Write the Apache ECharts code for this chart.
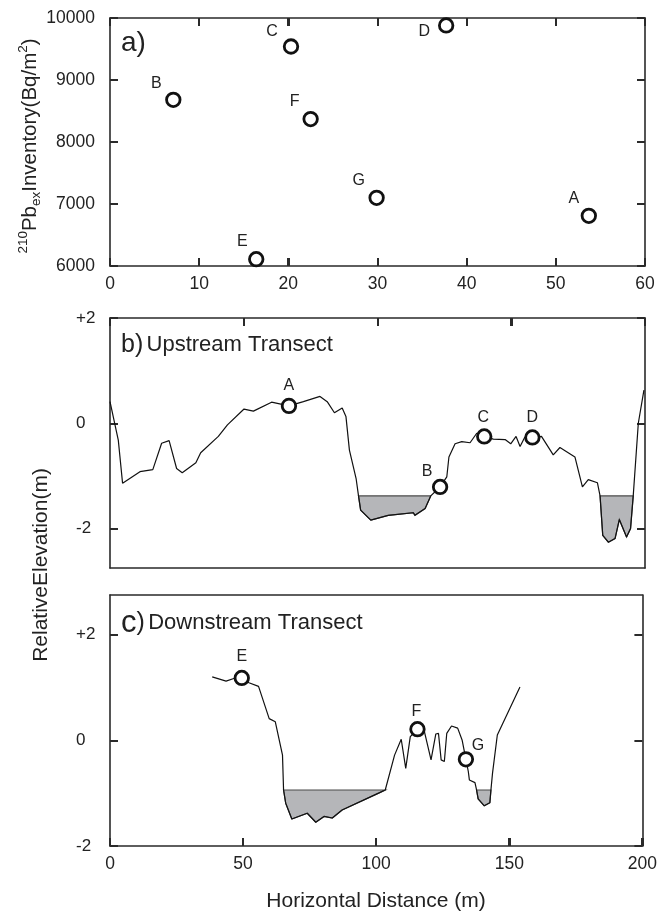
<!DOCTYPE html>
<html><head><meta charset="utf-8">
<script src="https://cdn.jsdelivr.net/npm/echarts@6/dist/echarts.min.js"></script>
<style>html,body{margin:0;padding:0;background:#fff}#c{width:660px;height:913px}</style>
</head><body><div id="c"></div>
<script>
// ---- Panel a: 210Pbex inventory vs distance ----
const sitesA = ['A', 'B', 'C', 'D', 'E', 'F', 'G'];
const distanceA = [53.7, 7.1, 20.3, 37.7, 16.4, 22.5, 29.9];
const inventoryA = [6810, 8680, 9540, 9880, 6110, 8370, 7100];
const xTicksA = [0, 10, 20, 30, 40, 50, 60];
const yTicksA = [6000, 7000, 8000, 9000, 10000];

// ---- Panel b: upstream transect ----
const upX = [0, 3.1, 4.7, 11.2, 16.0, 19.3, 22.1, 24.9, 27.0, 32.1, 33.9, 40.5, 43.9, 50.1, 53.6, 60.4, 66.9, 72.3, 78.5, 81.2, 83.9, 86.8, 88.2, 89.5, 92.0, 92.9, 93.7, 97.5, 104.0, 113.4, 114.0, 117.8, 119.9, 123.4, 125.9, 126.7, 129.0, 131.5, 134.6, 137.1, 139.9, 143.3, 147.7, 149.8, 151.8, 153.3, 155.0, 157.9, 161.3, 165.7, 168.2, 173.8, 176.6, 178.8, 182.2, 183.2, 184.2, 186.3, 188.8, 190.4, 193.1, 194.6, 195.6, 197.5, 199.6];
const upY = [0.41, -0.32, -1.14, -0.92, -0.88, -0.38, -0.33, -0.86, -0.94, -0.75, -0.56, -0.25, -0.03, 0.27, 0.23, 0.40, 0.33, 0.41, 0.51, 0.41, 0.20, 0.29, 0.13, -0.51, -1.05, -1.38, -1.65, -1.84, -1.75, -1.70, -1.75, -1.62, -1.38, -1.21, -1.02, -0.64, -0.39, -0.35, -0.37, -0.19, -0.25, -0.30, -0.31, -0.39, -0.25, -0.44, -0.27, -0.27, -0.25, -0.60, -0.46, -0.64, -1.21, -1.07, -1.13, -1.38, -2.13, -2.26, -2.19, -1.83, -2.16, -2.00, -1.38, 0.0, 0.63];
const upPoolStart = [92.9, 183.2];
const upPoolEnd = [119.9, 195.6];
const upPoolLevel = [-1.38, -1.38];
const upSites = ['A', 'B', 'C', 'D'];
const upSiteX = [66.9, 123.4, 139.9, 157.9];
const upSiteY = [0.33, -1.21, -0.25, -0.27];

// ---- Panel c: downstream transect ----
const downX = [38.4, 43.6, 46.5, 49.5, 52.2, 55.8, 59.8, 62.1, 64.8, 65.2, 66.0, 68.3, 74.1, 77.3, 80.4, 83.5, 87.2, 100.9, 103.4, 106.9, 109.4, 111.1, 112.8, 115.5, 118.0, 120.6, 122.4, 123.4, 124.4, 125.6, 126.5, 128.3, 130.6, 132.3, 133.7, 134.6, 135.0, 137.1, 137.7, 138.3, 140.6, 142.7, 143.1, 143.7, 145.5, 154.0];
const downY = [1.20, 1.12, 1.17, 1.18, 1.09, 1.02, 0.41, 0.35, -0.28, -0.94, -1.19, -1.49, -1.38, -1.55, -1.44, -1.47, -1.32, -1.0, -0.94, -0.28, 0.02, -0.53, 0.07, 0.21, 0.19, -0.37, 0.12, 0.13, -0.37, -0.40, 0.13, 0.27, 0.23, 0.0, -0.36, -0.59, -0.75, -0.80, -0.94, -1.11, -1.24, -1.18, -0.94, -0.62, 0.10, 1.01];
const downPoolStart = [65.2, 137.7];
const downPoolEnd = [103.4, 143.1];
const downPoolLevel = [-0.94, -0.94];
const downSites = ['E', 'F', 'G'];
const downSiteX = [49.5, 115.5, 133.7];
const downSiteY = [1.18, 0.21, -0.36];

const elevTicks = [-2, 0, 2];
const distTicks = [0, 50, 100, 150, 200];

// ---- styling ----
const FONT = 'Liberation Sans';
const INK = '#222';
const AX = '#2a2a2a';
const TICK_LEN = 8;
const TICK_W = 2;
const labelOffsets = {
  A_a: [-15, -17], B_a: [-17, -16], C_a: [-19, -15], D_a: [-22, 6], E_a: [-14, -18], F_a: [-16, -17], G_a: [-18, -17],
  A_b: [0, -20], B_b: [-13, -15], C_b: [-1, -19], D_b: [0, -20],
  E_c: [0, -21], F_c: [-1, -18], G_c: [12, -14]
};

function zip(xs, ys) { return xs.map((x, i) => [x, ys[i]]); }
function poolPolys(xs, ys, starts, ends, levels) {
  return starts.map((x0, k) => {
    const x1 = ends[k], lvl = levels[k];
    const pts = [[x0, lvl]];
    for (let i = 0; i < xs.length; i++) if (xs[i] > x0 && xs[i] < x1) pts.push([xs[i], ys[i]]);
    pts.push([x1, lvl]);
    return pts;
  });
}
const upPolys = poolPolys(upX, upY, upPoolStart, upPoolEnd, upPoolLevel);
const downPolys = poolPolys(downX, downY, downPoolStart, downPoolEnd, downPoolLevel);

function siteData(names, xs, ys, suffix) {
  return names.map((n, i) => ({
    name: n, value: [xs[i], ys[i]],
    label: { offset: labelOffsets[n + '_' + suffix] }
  }));
}

const tickStyle = { inside: true, length: TICK_LEN, lineStyle: { color: AX, width: TICK_W } };
const axLine = { show: true, onZero: false, lineStyle: { color: AX, width: 1.6 } };
function xAxisCfg(grid, ticks, pos, showLabels, showTicks) {
  return {
    gridIndex: grid, type: 'value', min: ticks[0], max: ticks[ticks.length - 1],
    interval: ticks[1] - ticks[0], position: pos,
    axisLine: axLine, splitLine: { show: false },
    axisTick: Object.assign({ show: showTicks }, tickStyle),
    axisLabel: { show: showLabels, fontSize: 17.5, color: INK, fontFamily: FONT, margin: 9, formatter: v => String(v) }
  };
}
function yAxisCfg(grid, min, max, ticks, pos, showLabels, labelCfg) {
  return {
    gridIndex: grid, type: 'value', min: min, max: max, position: pos,
    axisLine: axLine, splitLine: { show: false },
    axisTick: Object.assign({ show: true, customValues: ticks }, tickStyle),
    axisLabel: Object.assign({ show: showLabels, customValues: ticks, fontSize: 17.5, color: INK, fontFamily: FONT, formatter: v => String(v) }, labelCfg || {})
  };
}
const elevFmt = v => (v > 0 ? '+' + v : String(v));
const gridBase = { left: 110, width: 535, show: false };

// extra tick marks along a horizontal frame edge, placed through the axis scales
function xTickSeries(ticks, xi, yi, yEdge, dir) {
  return {
    type: 'custom', xAxisIndex: xi, yAxisIndex: yi, silent: true, z: 10, clip: false,
    data: ticks.map(v => [v, yEdge]),
    encode: { x: 0, y: 1 },
    renderItem: (params, api) => {
      const p = api.coord([api.value(0), api.value(1)]);
      const x = Math.round(p[0]);
      return {
        type: 'rect',
        shape: { x: x - TICK_W / 2, y: dir > 0 ? p[1] : p[1] - TICK_LEN, width: TICK_W, height: TICK_LEN },
        style: { fill: AX }
      };
    }
  };
}
function poolSeries(polys, xi, yi) {
  return {
    type: 'custom', xAxisIndex: xi, yAxisIndex: yi, silent: true, z: 2,
    data: polys.map(p => p[0]),
    encode: { x: 0, y: 1 },
    renderItem: (params, api) => ({
      type: 'polygon',
      shape: { points: polys[params.dataIndex].map(p => api.coord(p)) },
      style: { fill: '#b5b6b9', stroke: '#4a4a4a', lineWidth: 1.2 }
    })
  };
}
function profileSeries(xs, ys, xi, yi) {
  return {
    type: 'line', xAxisIndex: xi, yAxisIndex: yi, data: zip(xs, ys), silent: true, z: 3,
    showSymbol: false, symbol: 'none', lineStyle: { color: '#111', width: 1.2 }
  };
}
function siteSeries(data, xi, yi) {
  return {
    type: 'scatter', xAxisIndex: xi, yAxisIndex: yi, data: data, z: 5, silent: true,
    symbol: 'circle', symbolSize: 13.5,
    itemStyle: { color: '#fff', borderColor: '#111', borderWidth: 2.8, opacity: 1 },
    label: { show: true, position: 'inside', formatter: '{b}', fontSize: 16, color: INK, fontFamily: FONT }
  };
}

const option = {
  animation: false,
  backgroundColor: '#fff',
  textStyle: { fontFamily: FONT },
  grid: [
    Object.assign({ top: 18, height: 248 }, gridBase),
    Object.assign({ top: 318, height: 250 }, gridBase),
    Object.assign({ top: 595, height: 251 }, gridBase)
  ],
  xAxis: [
    xAxisCfg(0, xTicksA, 'bottom', true, true),
    xAxisCfg(0, xTicksA, 'top', false, true),
    xAxisCfg(1, distTicks, 'top', false, true),
    xAxisCfg(1, distTicks, 'bottom', false, false),
    xAxisCfg(2, distTicks, 'bottom', true, true),
    xAxisCfg(2, distTicks, 'top', false, false)
  ],
  yAxis: [
    yAxisCfg(0, 6000, 10000, yTicksA, 'left', true, { margin: 15 }),
    yAxisCfg(0, 6000, 10000, yTicksA, 'right', false),
    yAxisCfg(1, -2.75, 2, elevTicks, 'left', true, { margin: 34, align: 'left', formatter: elevFmt, fontSize: 17 }),
    yAxisCfg(1, -2.75, 2, elevTicks, 'right', false),
    yAxisCfg(2, -2, 2.75, elevTicks, 'left', true, { margin: 34, align: 'left', formatter: elevFmt, fontSize: 17 }),
    yAxisCfg(2, -2, 2.75, elevTicks, 'right', false)
  ],
  series: [
    xTickSeries(xTicksA, 0, 0, 6000, -1),
    xTickSeries(xTicksA, 0, 0, 10000, 1),
    xTickSeries(distTicks, 2, 2, 2, 1),
    xTickSeries(distTicks, 4, 4, -2, -1),
    siteSeries(siteData(sitesA, distanceA, inventoryA, 'a'), 0, 0),
    poolSeries(upPolys, 2, 2),
    profileSeries(upX, upY, 2, 2),
    siteSeries(siteData(upSites, upSiteX, upSiteY, 'b'), 2, 2),
    poolSeries(downPolys, 4, 4),
    profileSeries(downX, downY, 4, 4),
    siteSeries(siteData(downSites, downSiteX, downSiteY, 'c'), 4, 4)
  ],
  graphic: [
    { type: 'text', x: 121, y: 43, style: { text: 'a)', font: '28px "Liberation Sans"', fill: INK, align: 'left', verticalAlign: 'middle', textAlign: 'left', textVerticalAlign: 'middle' } },
    { type: 'text', x: 121, y: 345, style: {
      text: '{p|b)} {t|Upstream Transect}', fill: INK, align: 'left', verticalAlign: 'middle', textAlign: 'left', textVerticalAlign: 'middle',
      rich: { p: { fontSize: 25, fontFamily: FONT, fill: INK, color: INK }, t: { fontSize: 22, fontFamily: FONT, fill: INK, color: INK } } } },
    { type: 'text', x: 121, y: 623, style: {
      text: '{c|c}{p|)} {t|Downstream Transect}', fill: INK, align: 'left', verticalAlign: 'middle', textAlign: 'left', textVerticalAlign: 'middle',
      rich: { c: { fontSize: 31, fontFamily: FONT, fill: INK, color: INK }, p: { fontSize: 25, fontFamily: FONT, fill: INK, color: INK }, t: { fontSize: 22, fontFamily: FONT, fill: INK, color: INK } } } },
    { type: 'text', x: 30, y: 146, rotation: Math.PI / 2, style: {
      text: '{s|210}{m|Pb}{b|ex}{m|Inventory(Bq/m}{s|2}{m|)}', fill: INK, align: 'center', verticalAlign: 'middle', textAlign: 'center', textVerticalAlign: 'middle',
      rich: {
        m: { fontSize: 20.5, fontFamily: FONT, lineHeight: 27, fill: INK, color: INK },
        s: { fontSize: 13.5, fontFamily: FONT, lineHeight: 27, verticalAlign: 'top', fill: INK, color: INK },
        b: { fontSize: 13.5, fontFamily: FONT, lineHeight: 27, verticalAlign: 'bottom', fill: INK, color: INK }
      } } },
    { type: 'text', x: 41, y: 565, rotation: Math.PI / 2, style: { text: 'RelativeElevation(m)', font: '21px "Liberation Sans"', fill: INK, align: 'center', verticalAlign: 'middle', textAlign: 'center', textVerticalAlign: 'middle' } },
    { type: 'text', x: 376, y: 901, style: { text: 'Horizontal Distance (m)', font: '21px "Liberation Sans"', fill: INK, align: 'center', verticalAlign: 'middle', textAlign: 'center', textVerticalAlign: 'middle' } }
  ]
};

const chart = echarts.init(document.getElementById('c'), null, { renderer: 'canvas' });
chart.setOption(option);
</script>
</body></html>
